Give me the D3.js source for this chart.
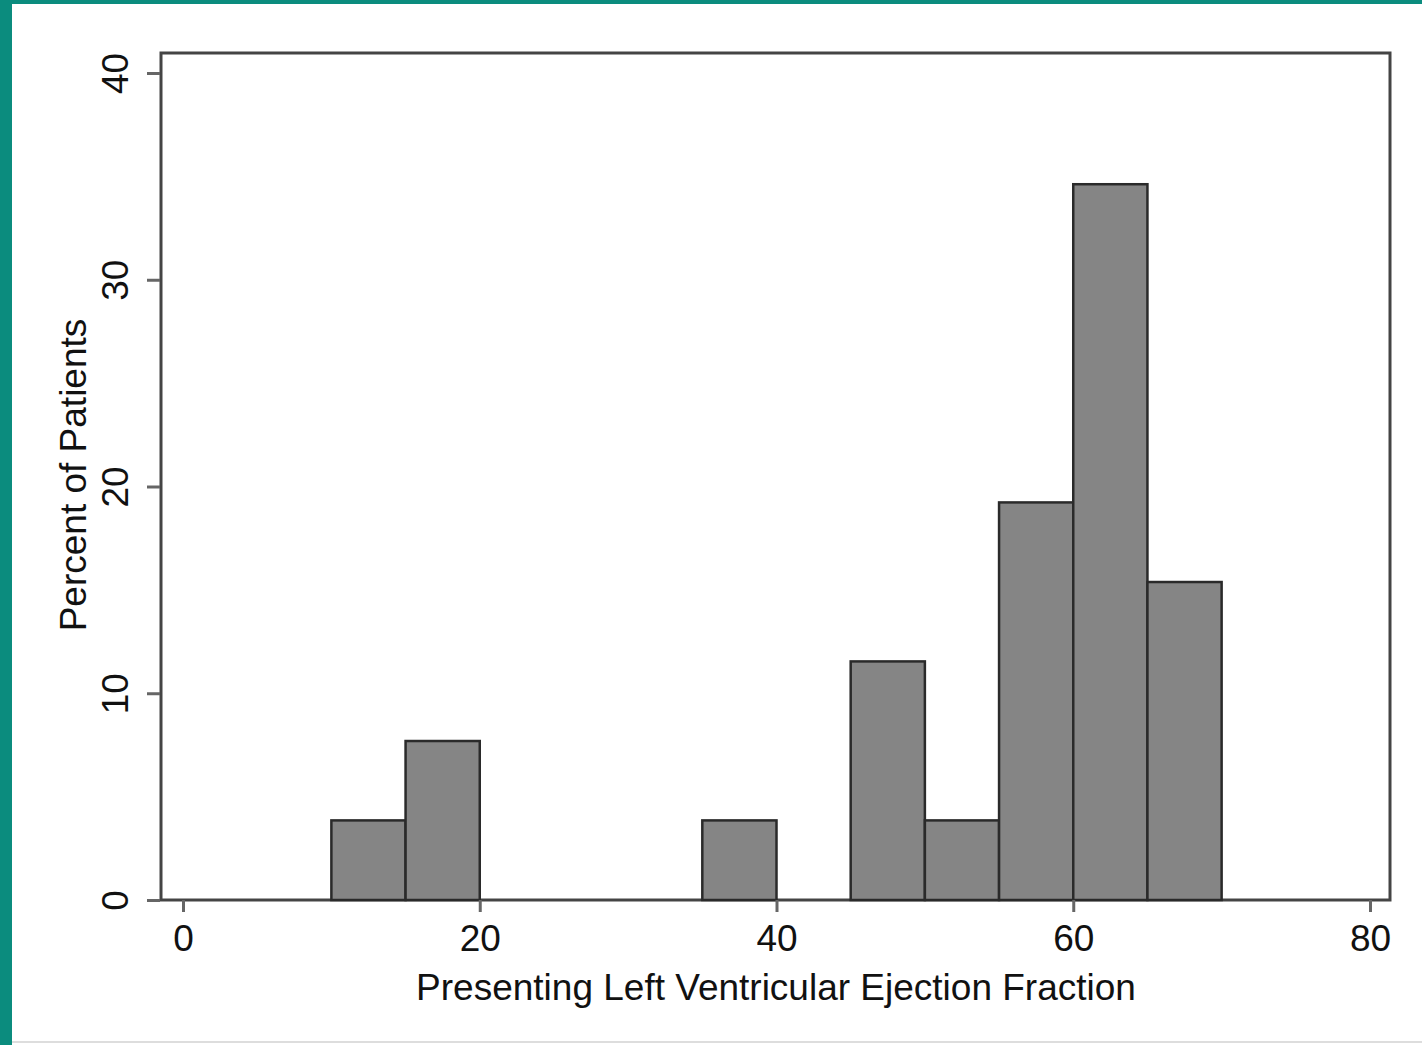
<!DOCTYPE html>
<html>
<meta charset="utf-8">
<style>
  body { margin: 0; background: #fff; }
  text { font-family: "Liberation Sans", Arial, sans-serif; fill: #111; }
</style>
<body>
<svg width="1422" height="1045"></svg>
<script src="https://d3js.org/d3.v7.min.js"></script>
<script>
  // histogram bins (LVEF, width 5) and percent of patients
  let binStart = [10, 15, 35, 45, 50, 55, 60, 65]
  let percent = [3.85, 7.69, 3.85, 11.54, 3.85, 19.23, 34.62, 15.38]
  let xTicks = [0, 20, 40, 60, 80]
  let yTicks = [0, 10, 20, 30, 40]

  let svg = d3.select('svg')

  // teal frame of the slide
  svg.append('rect').attr('x', 0).attr('y', 0).attr('width', 1422).attr('height', 1045).attr('fill', '#fff')
  svg.append('rect').attr('x', 0).attr('y', 0).attr('width', 12).attr('height', 1045).attr('fill', '#0b8c7e')
  svg.append('rect').attr('x', 0).attr('y', 0).attr('width', 1422).attr('height', 4).attr('fill', '#0b8c7e')
  svg.append('line').attr('x1', 12).attr('x2', 1422).attr('y1', 1042).attr('y2', 1042)
     .attr('stroke', '#ddd').attr('stroke-width', 2)

  let x = d3.scaleLinear().domain([0, 80]).range([183, 1370])
  let y = d3.scaleLinear().domain([0, 40]).range([900, 73])

  // plot region box
  svg.append('rect')
     .attr('x', 161).attr('y', 53)
     .attr('width', 1390 - 161).attr('height', 900 - 53)
     .attr('fill', 'none').attr('stroke', '#444').attr('stroke-width', 3)

  svg.append('g')
     .selectAll('rect')
     .data(binStart).enter()
     .append('rect')
     .attr('x', d => x(d))
     .attr('y', (d, i) => y(percent[i]))
     .attr('width', d => x(d + 5) - x(d))
     .attr('height', (d, i) => y(0) - y(percent[i]))
     .attr('fill', '#858585')
     .attr('stroke', '#2a2a2a')
     .attr('stroke-width', 2.5)

  // x axis
  let xAxis = svg.append('g').attr('transform', 'translate(0,900)')
    .call(d3.axisBottom(x).tickValues(xTicks).tickSize(12).tickPadding(13).tickFormat(d3.format('d')))
  xAxis.select('.domain').remove()
  xAxis.selectAll('line').attr('stroke', '#666').attr('stroke-width', 3)
  xAxis.selectAll('text').attr('font-size', 37).attr('fill', '#111')
    .style('font-family', '"Liberation Sans", Arial, sans-serif')

  // y axis, labels rotated
  let yAxis = svg.append('g').attr('transform', 'translate(160,0)')
    .call(d3.axisLeft(y).tickValues(yTicks).tickSize(13).tickFormat(d3.format('d')))
  yAxis.select('.domain').remove()
  yAxis.selectAll('line').attr('stroke', '#666').attr('stroke-width', 3)
  yAxis.selectAll('text')
    .attr('x', 0).attr('dy', null)
    .attr('transform', 'translate(-45,0) rotate(-90)')
    .attr('text-anchor', 'middle')
    .attr('dominant-baseline', 'central')
    .attr('font-size', 37).attr('fill', '#111')
    .style('font-family', '"Liberation Sans", Arial, sans-serif')

  svg.append('text')
     .attr('x', 776).attr('y', 1000)
     .attr('text-anchor', 'middle')
     .attr('font-size', 37)
     .text('Presenting Left Ventricular Ejection Fraction')

  svg.append('text')
     .attr('transform', 'translate(86,475) rotate(-90)')
     .attr('text-anchor', 'middle')
     .attr('font-size', 37)
     .text('Percent of Patients')
</script>
</body>
</html>
